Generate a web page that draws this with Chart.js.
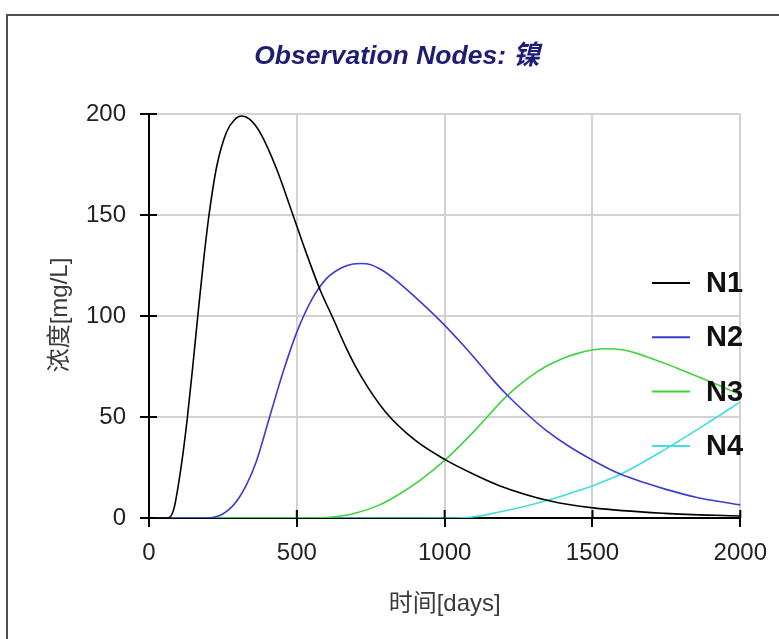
<!DOCTYPE html>
<html>
<head>
<meta charset="utf-8">
<title>Observation Nodes</title>
<script src="https://cdn.jsdelivr.net/npm/chart.js@4.4.1/dist/chart.umd.min.js"></script>
<style>
  body { margin: 0; background: #fff; }
  canvas { display: block; }
</style>
</head>
<body>
<canvas id="nodeChart" width="779" height="639"></canvas>
<script>
const chartTitle = 'Observation Nodes: 镍';
const xTitle = '时间[days]';
const yTitle = '浓度[mg/L]';

const seriesNames = ['N1', 'N2', 'N3', 'N4'];
const seriesColors = ['#000000', '#3b3bd4', '#3fd43f', '#40dede'];

// values (time in days, concentration in mg/L)
const n1Days = [0, 60, 72, 85, 100, 115, 130, 148, 165, 185, 203, 229, 262, 290, 313, 340, 375, 431, 481, 530, 580, 622, 671, 720, 800, 900, 1000, 1100, 1185, 1354, 1502, 1746, 2000];
const n1Vals = [0, 0, 0.6, 5, 17, 32, 50, 75, 100, 128, 150, 174, 191, 197.3, 199, 197.5, 191, 173, 152.5, 132, 112.5, 99, 83, 69.5, 52.5, 38.5, 29, 21.5, 16, 8.5, 5, 2.3, 1];

const n2Days = [0, 205, 217, 240, 260, 280, 300, 330, 363, 406, 453, 500, 550, 600, 650, 690, 718, 750, 790, 830, 892, 993, 1060, 1117, 1160, 1207, 1286, 1342, 1420, 1502, 1590, 1680, 1746, 1850, 2000];
const n2Vals = [0, 0, 0.3, 1.2, 3, 5.5, 9, 16.5, 28, 49, 72, 92, 108, 118.5, 123.8, 125.7, 126, 125.4, 122.5, 118.3, 110.5, 96.5, 86, 76.5, 69, 61.5, 50.5, 43.5, 35.5, 28.5, 22, 17.3, 14.3, 10.3, 6.5];

const n3Days = [0, 560, 620, 700, 780, 849, 920, 1000, 1100, 1207, 1280, 1342, 1400, 1450, 1500, 1550, 1600, 1650, 1690, 1750, 1805, 1915, 2000];
const n3Vals = [0, 0, 0.5, 2.5, 6.5, 12, 19, 28.5, 43, 60, 69, 75, 79, 81.5, 83.2, 83.8, 83.3, 81.5, 79.5, 76.3, 73, 66.5, 61];

const n4Days = [0, 1020, 1100, 1185, 1270, 1354, 1430, 1502, 1600, 1746, 1900, 2000];
const n4Vals = [0, 0, 0.6, 3, 5.7, 9, 12.5, 16, 22, 34, 48, 57.5];

const xTicks = [0, 500, 1000, 1500, 2000];
const yTicks = [0, 50, 100, 150, 200];

const seriesDays = [n1Days, n2Days, n3Days, n4Days];
const seriesVals = [n1Vals, n2Vals, n3Vals, n4Vals];

const sansFont = 'Arial, "Liberation Sans", "Noto Sans CJK SC", sans-serif';

function toPoints(days, vals) {
  return days.map((d, i) => ({ x: d, y: vals[i] }));
}

const datasets = seriesNames.map((name, i) => ({
  label: name,
  data: toPoints(seriesDays[i], seriesVals[i]),
  borderColor: seriesColors[i],
  backgroundColor: seriesColors[i],
  borderWidth: 1.6,
  pointRadius: 0,
  fill: false,
  cubicInterpolationMode: 'monotone'
}));

// frame, title, axis titles, crossing ticks and the legend inside the plot
const decorPlugin = {
  id: 'decor',
  afterDraw(chart) {
    const ctx = chart.ctx;
    const area = chart.chartArea;
    const xs = chart.scales.x;
    const ys = chart.scales.y;
    ctx.save();

    ctx.strokeStyle = '#505050';
    ctx.lineWidth = 2;
    ctx.beginPath();
    ctx.moveTo(7, chart.height);
    ctx.lineTo(7, 15);
    ctx.lineTo(chart.width, 15);
    ctx.stroke();

    ctx.fillStyle = '#1d1d76';
    ctx.font = 'italic bold 26.5px ' + sansFont;
    ctx.textAlign = 'center';
    ctx.textBaseline = 'middle';
    ctx.fillText(chartTitle, 397, 57);

    // inner half of the tick marks
    ctx.strokeStyle = '#000';
    ctx.lineWidth = 2;
    ctx.beginPath();
    yTicks.forEach(v => {
      const py = ys.getPixelForValue(v);
      ctx.moveTo(area.left, py);
      ctx.lineTo(area.left + 8, py);
    });
    xTicks.forEach(v => {
      const px = xs.getPixelForValue(v);
      ctx.moveTo(px, area.bottom);
      ctx.lineTo(px, area.bottom - 8);
    });
    ctx.stroke();

    ctx.fillStyle = '#3a3a3a';
    ctx.font = '24px ' + sansFont;
    ctx.fillText(xTitle, (area.left + area.right) / 2, 604);
    ctx.save();
    ctx.translate(60, 315);
    ctx.rotate(-Math.PI / 2);
    ctx.fillText(yTitle, 0, 0);
    ctx.restore();

    ctx.font = 'bold 29px ' + sansFont;
    ctx.textAlign = 'left';
    chart.data.datasets.forEach((ds, i) => {
      const y = 283 + i * 54.3;
      ctx.strokeStyle = ds.borderColor;
      ctx.lineWidth = 2;
      ctx.beginPath();
      ctx.moveTo(652, y);
      ctx.lineTo(690, y);
      ctx.stroke();
      ctx.fillStyle = '#111';
      ctx.fillText(ds.label, 706, y + 1);
    });

    ctx.restore();
  }
};

new Chart(document.getElementById('nodeChart'), {
  type: 'line',
  data: { datasets },
  options: {
    responsive: false,
    animation: false,
    devicePixelRatio: 1,
    layout: { padding: { left: 0, top: 114, right: 38, bottom: 0 } },
    plugins: {
      legend: { display: false },
      title: { display: false },
      tooltip: { enabled: false }
    },
    scales: {
      x: {
        type: 'linear',
        min: xTicks[0],
        max: xTicks[xTicks.length - 1],
        afterFit: s => { s.height = 121; },
        afterBuildTicks: s => { s.ticks = xTicks.map(v => ({ value: v })); },
        grid: { color: '#d2d2d2', lineWidth: 2, tickLength: 9, tickColor: '#000', tickWidth: 2 },
        border: { color: '#000', width: 2 },
        ticks: { color: '#222', padding: 12, font: { size: 24, family: sansFont }, callback: v => String(v) }
      },
      y: {
        min: yTicks[0],
        max: yTicks[yTicks.length - 1],
        afterFit: s => { s.width = 149; },
        afterBuildTicks: s => { s.ticks = yTicks.map(v => ({ value: v })); },
        grid: { color: '#d2d2d2', lineWidth: 2, tickLength: 9, tickColor: '#000', tickWidth: 2 },
        border: { color: '#000', width: 2 },
        ticks: { color: '#222', padding: 14, font: { size: 24, family: sansFont }, callback: v => String(v) }
      }
    }
  },
  plugins: [decorPlugin]
});
</script>
</body>
</html>
